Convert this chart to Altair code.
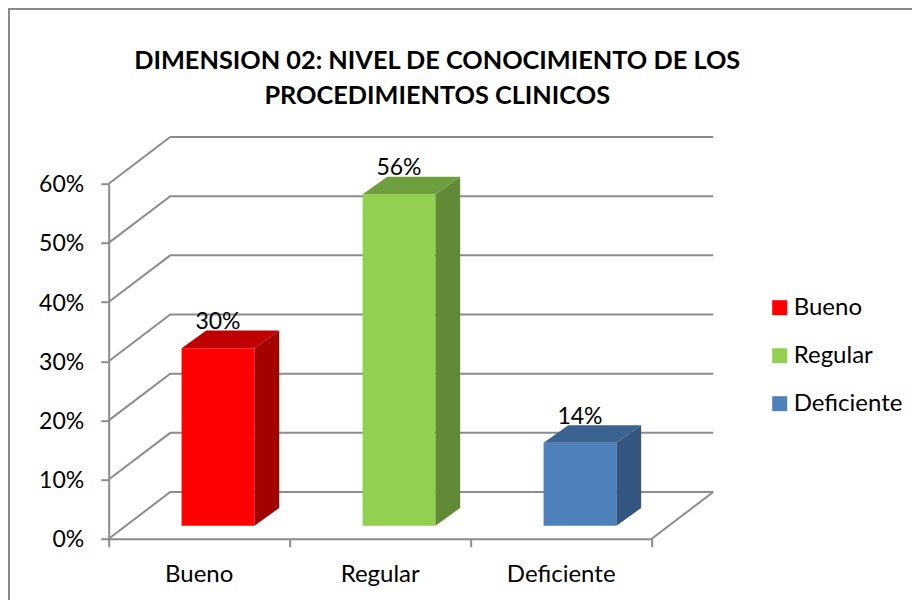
import altair as alt
import pandas as pd

# ---- values
categories = ["Bueno", "Regular", "Deficiente"]
values = [30, 56, 14]
labels = ["30%", "56%", "14%"]
y_ticks = [0, 10, 20, 30, 40, 50, 60]
x_ticks = [0, 1, 2, 3]
title_text = "DIMENSION 02: NIVEL DE CONOCIMIENTO DE LOS\nPROCEDIMIENTOS CLINICOS"

# ---- styling
front_colors = ["#FF0000", "#92D050", "#4F81BD"]
top_colors = ["#BF0000", "#6F9E3E", "#3B6391"]
side_colors = ["#A30000", "#628A36", "#335680"]
GRID = "#8C8C8C"
FONT = "Lato"
TXT = 24
PCT = 23

# ---- pseudo-3D geometry, in axis units
WALL_DX, WALL_DY = 0.34, 7.89
BAR_DX, BAR_DY = 0.1365, 2.99
BAR_START, BAR_WIDTH, BAR_BASE = 0.4026, 0.4026, 2.2

W, H = 543, 355
PAD_L, PAD_T = 100.7, 175.7
PAD_R, PAD_B = 904 - W - PAD_L, 592 - H - PAD_T

front, side, top, lab = [], [], [], []
for i, (c, v) in enumerate(zip(categories, values)):
    x0 = i + BAR_START
    x1 = x0 + BAR_WIDTH
    t = v + BAR_BASE
    front.append(dict(cat=c, x0=x0, x1=x1, y0=BAR_BASE, y1=t))
    side.append(dict(cat=c, fill=side_colors[i], x=x1, y=t, y2=BAR_BASE))
    side.append(dict(cat=c, fill=side_colors[i], x=x1 + BAR_DX, y=t + BAR_DY, y2=BAR_BASE + BAR_DY))
    top.append(dict(cat=c, fill=top_colors[i], x=x0, x2=x1, y=t))
    top.append(dict(cat=c, fill=top_colors[i], x=x0 + BAR_DX, x2=x1 + BAR_DX, y=t + BAR_DY))
    lab.append(dict(x=(x0 + x1) / 2, y=t, text=labels[i]))

wall = []
for v in y_ticks:
    wall.append(dict(g=f"w{v}", o=0, x=0, y=v))
    wall.append(dict(g=f"w{v}", o=1, x=WALL_DX, y=v + WALL_DY))
    wall.append(dict(g=f"w{v}", o=2, x=x_ticks[-1] + WALL_DX, y=v + WALL_DY))
wall.append(dict(g="floor", o=0, x=x_ticks[-1] + WALL_DX, y=WALL_DY))
wall.append(dict(g="floor", o=1, x=x_ticks[-1], y=0))

x_scale = alt.Scale(domain=[0, 3], nice=False, zero=False)
y_scale = alt.Scale(domain=[0, 60], nice=False, zero=False)
X = lambda f: alt.X(f, type="quantitative", scale=x_scale, title=None)
Y = lambda f: alt.Y(f, type="quantitative", scale=y_scale, title=None, stack=None)

base_axes = alt.Chart(pd.DataFrame(wall)).mark_line(color=GRID, strokeWidth=2, clip=False).encode(
    x=alt.X("x:Q", scale=x_scale, title=None,
            axis=alt.Axis(values=x_ticks, labels=False, grid=False, tickSize=8, tickWidth=2,
                          tickColor=GRID, domainColor=GRID, domainWidth=2)),
    y=alt.Y("y:Q", scale=y_scale, title=None,
            axis=alt.Axis(values=y_ticks, grid=False, tickSize=8, tickWidth=2, tickColor=GRID,
                          domainColor=GRID, domainWidth=2, labelExpr="datum.value + '%'",
                          labelFont=FONT, labelFontSize=PCT, labelColor="#000000", labelPadding=17,
                          labelOffset=1)),
    detail="g:N",
    order="o:Q",
)

front_layer = alt.Chart(pd.DataFrame(front)).mark_rect(clip=False).encode(
    x=X("x0"), x2="x1:Q", y=Y("y0"), y2="y1:Q",
    color=alt.Color("cat:N", scale=alt.Scale(domain=categories, range=front_colors),
                    legend=alt.Legend(title=None, orient="none", legendX=659, legendY=112,
                                      symbolType="square", symbolSize=225, symbolStrokeWidth=0,
                                      labelFont=FONT, labelFontSize=TXT, labelColor="#000000",
                                      labelOffset=2, rowPadding=24, labelLimit=200)),
)

side_layer = alt.Chart(pd.DataFrame(side)).mark_area(clip=False).encode(
    x=X("x"), y=Y("y"), y2="y2:Q", detail="cat:N", fill=alt.Fill("fill:N", scale=None),
)

top_layer = alt.Chart(pd.DataFrame(top)).mark_area(orient="horizontal", clip=False).encode(
    y=Y("y"), x=X("x"), x2="x2:Q", detail="cat:N", fill=alt.Fill("fill:N", scale=None),
)

value_text = alt.Chart(pd.DataFrame(lab)).mark_text(
    font=FONT, fontSize=PCT, color="#000000", dy=-26, clip=False
).encode(x=X("x"), y=Y("y"), text="text:N")

cat_text = alt.Chart(pd.DataFrame(dict(x=[i + 0.5 for i in range(3)], t=categories))).mark_text(
    font=FONT, fontSize=TXT, color="#000000"
).encode(x=X("x"), y=alt.value(391), text="t:N")

title_layer = alt.Chart(pd.DataFrame(dict(t=[title_text]))).mark_text(
    font=FONT, fontSize=25.3, fontWeight="bold", color="#000000", lineBreak="\n", lineHeight=35,
    baseline="top", align="center"
).encode(x=alt.value(328.5), y=alt.value(-135), text="t:N")

frame_v = alt.Chart(pd.DataFrame(dict(a=[0]))).mark_rule(color=GRID, strokeWidth=2).encode(
    x=alt.value(-PAD_L + 1), y=alt.value(-PAD_T), y2=alt.value(H + PAD_B))
frame_h = alt.Chart(pd.DataFrame(dict(a=[0]))).mark_rule(color=GRID, strokeWidth=2).encode(
    x=alt.value(-PAD_L), x2=alt.value(W + PAD_R), y=alt.value(-PAD_T + 1))

chart = alt.layer(
    frame_v, frame_h, base_axes, front_layer, side_layer, top_layer, value_text, cat_text, title_layer
).properties(
    width=W, height=H,
    padding={"left": PAD_L, "top": PAD_T, "right": PAD_R, "bottom": PAD_B},
    autosize=alt.AutoSizeParams(type="none"),
).configure_view(stroke=None)

chart.save("out.html", embed_options={"renderer": "svg", "actions": False})
